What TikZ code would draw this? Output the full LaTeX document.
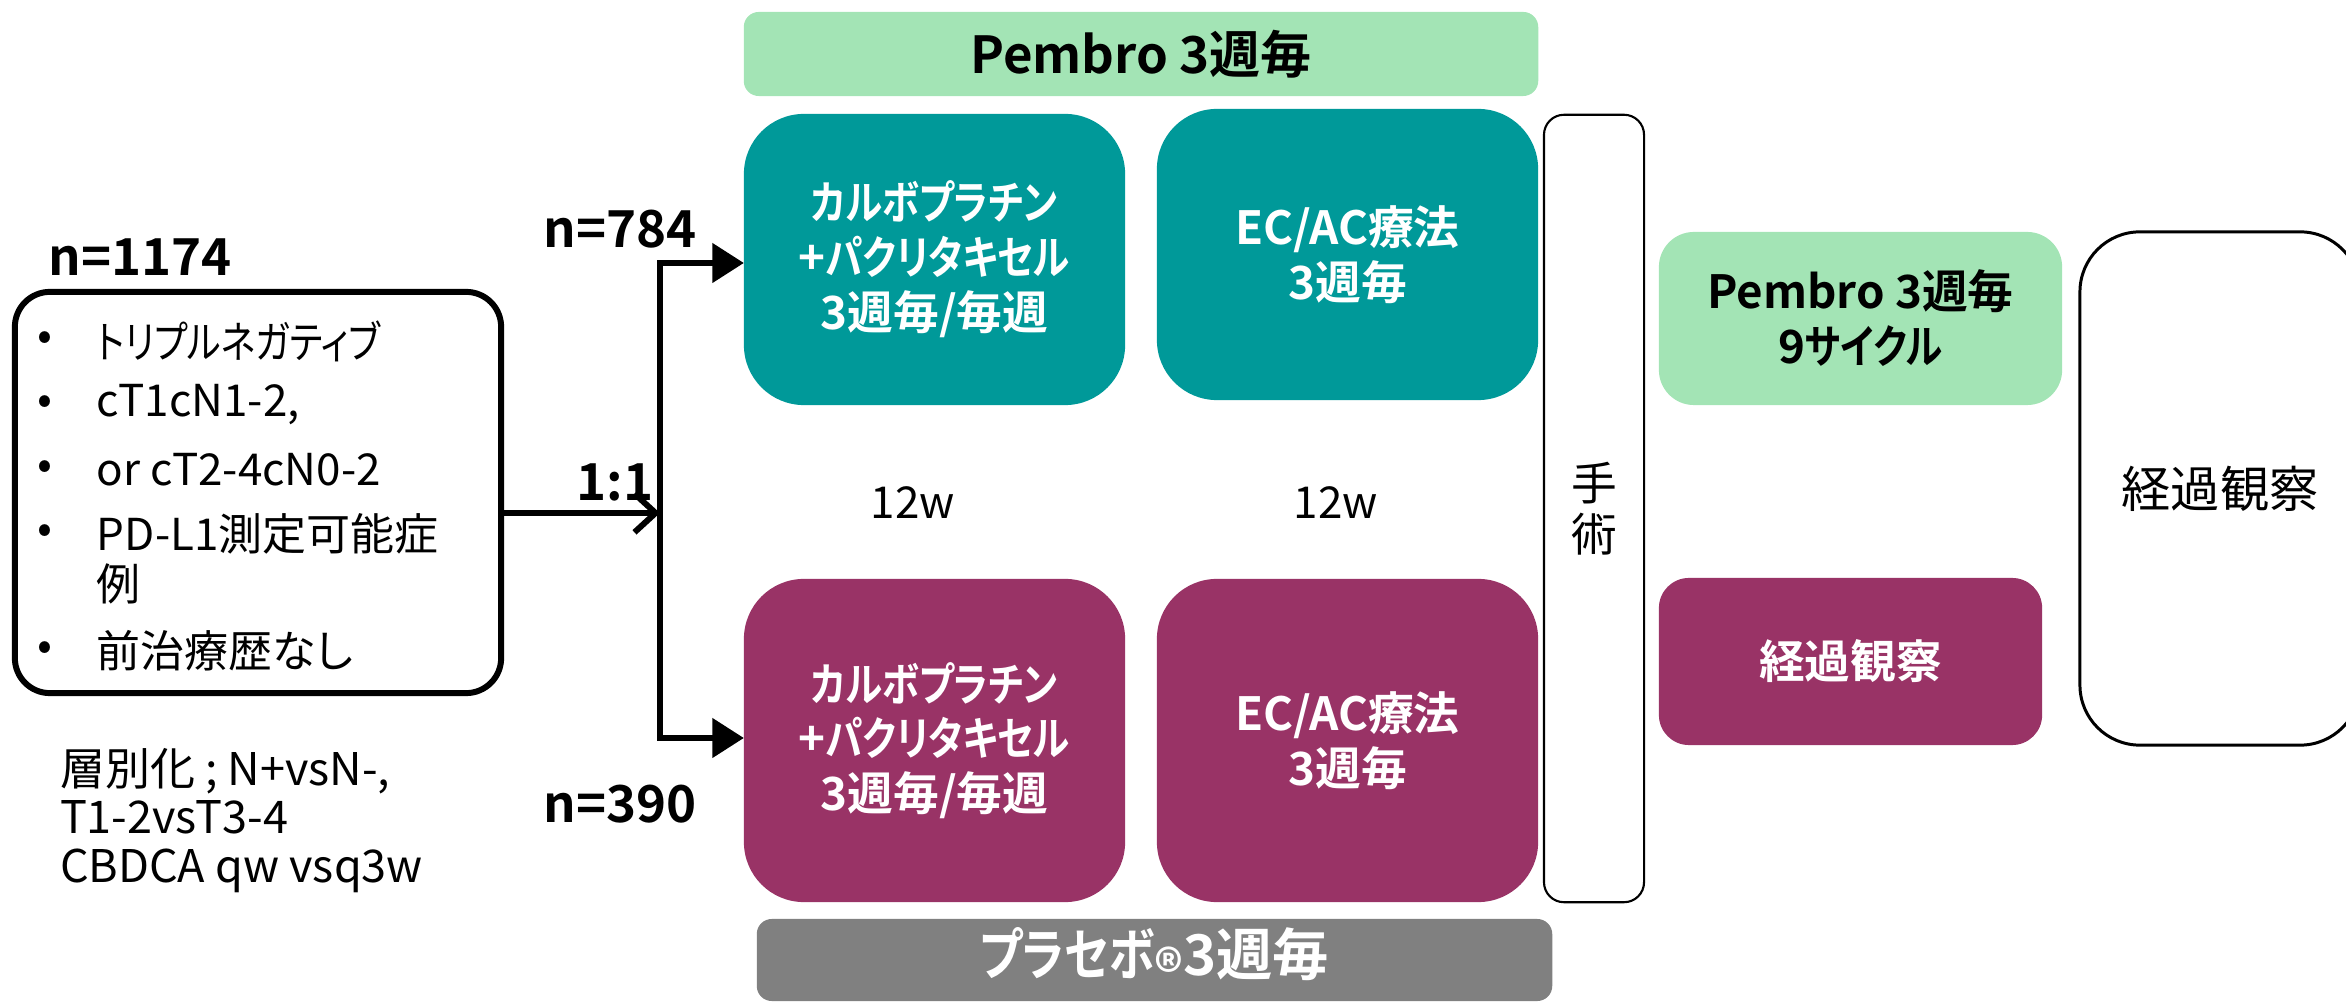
\documentclass[tikz,border=0pt]{standalone}
\usepackage{fontspec}
\setmainfont{Noto Sans CJK JP}[RawFeature=+palt, BoldFont={Noto Sans CJK JP Bold}]
\newfontfamily\kanaf{Noto Sans CJK JP}[FakeStretch=0.82, RawFeature=+palt, BoldFont={Noto Sans CJK JP Bold}]
\newcommand\kana[1]{{\kanaf #1}}
\usetikzlibrary{arrows.meta}
\definecolor{teal1}{RGB}{0,153,153}
\definecolor{mag1}{RGB}{153,51,102}
\definecolor{lgreen}{RGB}{163,228,181}
\definecolor{gray1}{RGB}{128,128,128}
\begin{document}
\begin{tikzpicture}[x=0.01cm,y=-0.01cm,
  every node/.style={inner sep=0pt,outer sep=0pt},
  body/.style={font=\fontsize{12.5}{15}\selectfont},
  boldlbl/.style={font=\fontsize{14.5}{17}\selectfont\bfseries},
  tealbox/.style={fill=teal1,rounded corners=0.6cm,text=white,align=center,
    font=\fontsize{13}{15.6}\selectfont\bfseries,minimum width=3.81cm},
  magbox/.style={fill=mag1,rounded corners=0.6cm,text=white,align=center,
    font=\fontsize{13}{15.6}\selectfont\bfseries,minimum width=3.81cm,minimum height=3.23cm},
  greenbox/.style={fill=lgreen,align=center,font=\fontsize{13}{15.6}\selectfont\bfseries},
  thickarrow/.style={line width=1.7pt},
]
\useasboundingbox (0,0) rectangle (2346,1004);

% top and bottom bars
\node[greenbox,rounded corners=0.15cm,minimum width=7.94cm,minimum height=0.84cm,
  font=\fontsize{14.5}{17}\selectfont\bfseries] (topbar) at (1141,54) {Pembro 3週毎};
\node[fill=gray1,rounded corners=0.15cm,minimum width=7.95cm,minimum height=0.82cm,
  text=white,font=\fontsize{16}{19}\selectfont\bfseries] (graybar) at (1154.5,960) {\kana{プラセボ}\raisebox{-0.3em}{®}3週毎};

% treatment boxes
\node[tealbox,minimum height=2.91cm] (t1) at (934.5,259.5) {\kana{カルボプラチン}\\+\kana{パクリタキセル}\\3週毎/毎週};
\node[tealbox,minimum height=2.91cm] (t2) at (1347.5,254.5) {EC/AC療法\\3週毎};
\node[magbox] (m1) at (934.5,740.5) {\kana{カルボプラチン}\\+\kana{パクリタキセル}\\3週毎/毎週};
\node[magbox] (m2) at (1347.5,740.5) {EC/AC療法\\3週毎};

% surgery
\node[draw,line width=0.6pt,rounded corners=0.2cm,minimum width=1.0cm,minimum height=7.87cm,
  align=center,font=\fontsize{13}{14.6}\selectfont] (surg) at (1594,508.5) {手\\術};

% post-surgery
\node[greenbox,rounded corners=0.35cm,minimum width=4.03cm,minimum height=1.73cm] (g2) at (1860.5,318.5) {Pembro 3週毎\\9\kana{サイクル}};
\node[fill=mag1,rounded corners=0.3cm,minimum width=3.83cm,minimum height=1.67cm,text=white,
  font=\fontsize{13}{15.6}\selectfont\bfseries] (m3) at (1850.5,661.5) {経過観察};
\node[draw,line width=0.85pt,rounded corners=0.6cm,minimum width=2.8cm,minimum height=5.13cm,
  font=\fontsize{14}{16}\selectfont] (obs) at (2220,488.5) {経過観察};

% 12w labels
\node[body] (w1) at (913,503) {12w};
\node[body] (w2) at (1336,503) {12w};

% left eligibility box
\node[draw,line width=1.7pt,rounded corners=0.35cm,minimum width=4.86cm,minimum height=4.01cm] (elig) at (258,492.5) {};
\node[boldlbl] (n1) at (140,257) {n=1174};
\foreach \yy/\txt/\nm in {341/\kana{トリプルネガティブ}/a, 405/{cT1cN1-2,}/b, 470/or cT2-4cN0-2/c, 534/PD-L1測定可能症/d, 651/前治療歴なし/f}{
  \node[body] (bul\nm) at (45,\yy) {•};
  \node[body,anchor=west] (item\nm) at (97,\yy) {\txt};
}
\node[body,anchor=west] (iteme) at (97,584) {例};

\node[body,anchor=north west,align=left,font=\fontsize{12.8}{13.8}\selectfont] (strat) at (60,748) {層別化 ; N+vsN-,\\T1-2vsT3-4\\CBDCA qw vsq3w};

% randomisation
\node[boldlbl] (n784) at (620,229) {n=784};
\node[boldlbl] (n390) at (620,804) {n=390};
\node[boldlbl] (ratio) at (615,482) {1:1};
\coordinate (sp) at (660,513);
\coordinate (top) at (660,263);
\coordinate (bot) at (660,738);
\draw[thickarrow,-{Straight Barb[length=6pt,width=11pt,line width=1.7pt]}] (elig.east |- sp) -- (sp);
\draw[thickarrow,line join=miter,-{Triangle[length=9pt,width=11pt]}] (bot) -- (top) -- (top -| t1.west);
\draw[thickarrow,line join=miter,-{Triangle[length=9pt,width=11pt]}] (top) -- (bot) -- (bot -| m1.west);
\end{tikzpicture}
\end{document}
